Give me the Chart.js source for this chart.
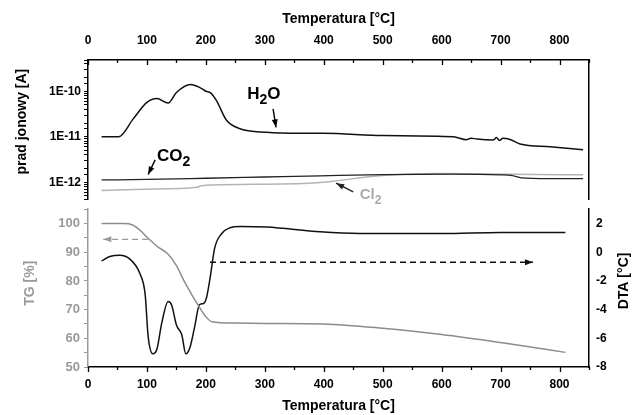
<!DOCTYPE html>
<html>
<head>
<meta charset="utf-8">
<script src="https://cdn.jsdelivr.net/npm/chart.js@4.4.1/dist/chart.umd.min.js"></script>
<style>
  body { margin: 0; background: #fff; }
  #wrap { position: relative; width: 633px; height: 415px; }
  #wrap canvas { position: absolute; left: 0; }
  #msChart { top: 0; }
  #thermoChart { top: 195px; }
</style>
</head>
<body>
<div id="wrap">
  <canvas id="msChart" width="633" height="210"></canvas>
  <canvas id="thermoChart" width="633" height="220"></canvas>
</div>
<script>
const FONT = "'Liberation Sans', Arial, sans-serif";
Chart.defaults.font.family = FONT;
Chart.defaults.font.weight = 'bold';
Chart.defaults.font.size = 12;
Chart.defaults.color = '#000';

// temperature axis [°C]
const tempMin = 0;
const tempMax = 850;

// ion current [A] vs temperature (mass spectrometry)
const h2oTemp = [23, 52, 77, 100, 117, 136, 150, 174, 190, 200, 208, 218, 235, 258, 303, 360, 400, 501, 620, 642, 650, 660, 688, 693, 698, 704, 716, 733, 784, 840];
const h2oCurrent = [1.0e-11, 1.0e-11, 2.5e-11, 5.7e-11, 6.9e-11, 5.5e-11, 9.4e-11, 1.41e-10, 1.2e-10, 1.0e-10, 9.2e-11, 6.2e-11, 2.3e-11, 1.5e-11, 1.25e-11, 1.19e-11, 1.19e-11, 1.06e-11, 1.0e-11, 8.6e-12, 9.3e-12, 8.9e-12, 8.5e-12, 9.6e-12, 8.3e-12, 9.2e-12, 8.7e-12, 6.9e-12, 6.0e-12, 5.2e-12];

const co2Temp = [23, 100, 200, 300, 394, 500, 620, 700, 720, 735, 780, 840];
const co2Current = [1.12e-12, 1.15e-12, 1.22e-12, 1.3e-12, 1.38e-12, 1.47e-12, 1.5e-12, 1.45e-12, 1.4e-12, 1.25e-12, 1.2e-12, 1.2e-12];

const cl2Temp = [23, 100, 185, 192, 300, 394, 415, 500, 590, 720, 840];
const cl2Current = [6.6e-13, 7.0e-13, 7.7e-13, 8.4e-13, 9.0e-13, 9.8e-13, 1.05e-12, 1.4e-12, 1.55e-12, 1.5e-12, 1.45e-12];

// thermogravimetry [%] and DTA [°C]
const tgTemp = [23, 60, 75, 88, 102, 117, 136, 150, 165, 179, 190, 200, 210, 250, 300, 400, 500, 600, 700, 810];
const tgMass = [100, 100, 99.6, 97.7, 94.9, 92.1, 89.3, 85.3, 79.2, 74.2, 70.5, 67.5, 65.8, 65.3, 65.2, 65.0, 63.5, 61.3, 58.5, 55.1];

const dtaTemp = [23, 37, 54, 71, 88, 97, 102, 110, 117, 125, 136, 142, 150, 159, 166, 173, 181, 189, 196, 201, 207, 215, 227, 241, 258, 303, 394, 461, 600, 700, 810];
const dtaSignal = [-0.6, -0.3, -0.21, -0.48, -1.49, -2.95, -5.85, -7.08, -6.75, -4.96, -3.44, -3.7, -5.07, -5.74, -7.08, -6.64, -5.18, -3.66, -3.57, -3.17, -1.83, 0.3, 1.31, 1.71, 1.8, 1.76, 1.42, 1.31, 1.31, 1.38, 1.38];

const pts = (xs, ys) => xs.map((x, i) => ({ x, y: ys[i] }));
const isDecade = v => Math.abs(Math.log10(v) - Math.round(Math.log10(v))) < 1e-6;

function arrow(ctx, x1, y1, x2, y2, color, dash) {
  ctx.save();
  ctx.strokeStyle = color;
  ctx.fillStyle = color;
  ctx.lineWidth = 1.4;
  if (dash) ctx.setLineDash(dash);
  ctx.beginPath();
  ctx.moveTo(x1, y1);
  ctx.lineTo(x2, y2);
  ctx.stroke();
  ctx.setLineDash([]);
  const a = Math.atan2(y2 - y1, x2 - x1);
  const L = 8, W = 3;
  ctx.beginPath();
  ctx.moveTo(x2, y2);
  ctx.lineTo(x2 - L * Math.cos(a) + W * Math.sin(a), y2 - L * Math.sin(a) - W * Math.cos(a));
  ctx.lineTo(x2 - L * Math.cos(a) - W * Math.sin(a), y2 - L * Math.sin(a) + W * Math.cos(a));
  ctx.closePath();
  ctx.fill();
  ctx.restore();
}

function chemLabel(ctx, x, y, base, sub, tail, size, color) {
  ctx.save();
  ctx.fillStyle = color;
  ctx.textAlign = 'left';
  ctx.textBaseline = 'alphabetic';
  ctx.font = `bold ${size}px ${FONT}`;
  ctx.fillText(base, x, y);
  let cx = x + ctx.measureText(base).width;
  ctx.font = `bold ${Math.round(size * 0.8)}px ${FONT}`;
  ctx.fillText(sub, cx, y + size * 0.3);
  cx += ctx.measureText(sub).width;
  ctx.font = `bold ${size}px ${FONT}`;
  if (tail) ctx.fillText(tail, cx, y);
  ctx.restore();
}

// vertical axis title, reading bottom to top
function vTitle(ctx, text, x, y, color) {
  ctx.save();
  ctx.translate(x, y);
  ctx.rotate(-Math.PI / 2);
  ctx.fillStyle = color;
  ctx.font = `bold 14px ${FONT}`;
  ctx.textAlign = 'center';
  ctx.textBaseline = 'middle';
  ctx.fillText(text, 0, 0);
  ctx.restore();
}

// x axis tick marks: major every 100, minor every 50, drawn downward from the axis line
const tempTicks = {
  id: 'tempTicks',
  afterDraw(chart, args, opts) {
    const s = chart.scales.x;
    const ctx = chart.ctx;
    const edge = opts.edge === 'top' ? chart.chartArea.top : chart.chartArea.bottom;
    ctx.save();
    ctx.strokeStyle = '#000';
    ctx.lineWidth = 1.3;
    for (let v = tempMin; v <= tempMax; v += 50) {
      const px = Math.round(s.getPixelForValue(v)) + 0.5;
      const len = v % 100 === 0 ? 5 : 3;
      ctx.beginPath();
      ctx.moveTo(px, edge);
      ctx.lineTo(px, edge + len);
      ctx.stroke();
    }
    ctx.restore();
  }
};

const msLabels = {
  id: 'msLabels',
  afterDraw(chart) {
    const { ctx, scales: { x, y } } = chart;
    vTitle(ctx, 'prad jonowy [A]', 22, y.getPixelForValue(2.15e-11), '#000');
    chemLabel(ctx, x.getPixelForValue(270), y.getPixelForValue(6.7e-11), 'H', '2', 'O', 17, '#000');
    arrow(ctx, x.getPixelForValue(314), y.getPixelForValue(4.1e-11), x.getPixelForValue(319), y.getPixelForValue(1.6e-11), '#000');
    chemLabel(ctx, x.getPixelForValue(117), y.getPixelForValue(2.97e-12), 'CO', '2', '', 17, '#000');
    arrow(ctx, x.getPixelForValue(114), y.getPixelForValue(3.1e-12), x.getPixelForValue(102), y.getPixelForValue(1.48e-12), '#000');
    chemLabel(ctx, x.getPixelForValue(461), y.getPixelForValue(4.2e-13), 'Cl', '2', '', 15, '#aaa');
    arrow(ctx, x.getPixelForValue(450), y.getPixelForValue(6.1e-13), x.getPixelForValue(421), y.getPixelForValue(9.5e-13), '#222');
  }
};

const thermoLabels = {
  id: 'thermoLabels',
  afterDraw(chart) {
    const { ctx, scales: { x, yTG, yDTA } } = chart;
    vTitle(ctx, 'TG [%]', 30, yTG.getPixelForValue(79.2), '#999');
    vTitle(ctx, 'DTA [°C]', 624, yDTA.getPixelForValue(-2), '#000');
    arrow(ctx, x.getPixelForValue(102), yTG.getPixelForValue(94.5), x.getPixelForValue(26), yTG.getPixelForValue(94.5), '#999', [6, 4]);
    arrow(ctx, x.getPixelForValue(207), yDTA.getPixelForValue(-0.7), x.getPixelForValue(755), yDTA.getPixelForValue(-0.7), '#111', [6, 4]);
  }
};

const tempAxis = (position, opts) => ({
  type: 'linear',
  position,
  min: tempMin,
  max: tempMax,
  ticks: { stepSize: 50, autoSkip: false, maxRotation: 0, padding: opts.padding, callback: v => (v % 100 === 0 ? v : '') },
  grid: { drawOnChartArea: false, drawTicks: false },
  border: { color: '#000', width: 1.5 },
  title: { display: true, text: 'Temperatura [°C]', font: { size: 14 }, padding: opts.titlePadding },
  afterFit: s => { s.height = opts.height; }
});

new Chart(document.getElementById('msChart'), {
  type: 'line',
  data: {
    datasets: [
      { label: 'H2O', data: pts(h2oTemp, h2oCurrent), borderColor: '#111', borderWidth: 1.5 },
      { label: 'CO2', data: pts(co2Temp, co2Current), borderColor: '#222', borderWidth: 1.3 },
      { label: 'Cl2', data: pts(cl2Temp, cl2Current), borderColor: '#b4b4b4', borderWidth: 1.5 }
    ]
  },
  options: {
    responsive: false,
    animation: false,
    events: [],
    layout: { padding: { top: 0, bottom: 7, left: 0, right: 0 } },
    elements: { point: { radius: 0 }, line: { cubicInterpolationMode: 'monotone' } },
    plugins: { legend: { display: false }, tooltip: { enabled: false }, tempTicks: { edge: 'top' } },
    scales: {
      x: tempAxis('top', { padding: 12, titlePadding: { top: 11 }, height: 60 }),
      y: {
        type: 'logarithmic',
        min: 4.1e-13,
        max: 4.87e-10,
        ticks: { autoSkip: false, padding: 3, callback: v => (isDecade(v) ? '1E' + Math.round(Math.log10(v)) : '') },
        grid: { drawOnChartArea: false, tickLength: 4, tickColor: '#000' },
        border: { color: '#000', width: 1.5 },
        afterFit: s => { s.width = 88; }
      },
      yR: {
        position: 'right',
        ticks: { display: false },
        grid: { drawOnChartArea: false, drawTicks: false },
        border: { color: '#000', width: 1.5 },
        afterFit: s => { s.width = 44; }
      }
    }
  },
  plugins: [tempTicks, msLabels]
});

new Chart(document.getElementById('thermoChart'), {
  type: 'line',
  data: {
    datasets: [
      { label: 'TG', data: pts(tgTemp, tgMass), yAxisID: 'yTG', borderColor: '#8c8c8c', borderWidth: 1.5 },
      { label: 'DTA', data: pts(dtaTemp, dtaSignal), yAxisID: 'yDTA', borderColor: '#111', borderWidth: 1.5 }
    ]
  },
  options: {
    responsive: false,
    animation: false,
    events: [],
    layout: { padding: { top: 8, bottom: 0, left: 0, right: 0 } },
    elements: { point: { radius: 0 }, line: { cubicInterpolationMode: 'monotone' } },
    plugins: { legend: { display: false }, tooltip: { enabled: false }, tempTicks: { edge: 'bottom' } },
    scales: {
      x: tempAxis('bottom', { padding: 10, titlePadding: { bottom: 0 }, height: 48 }),
      yTG: {
        position: 'left',
        min: 50,
        max: 105,
        ticks: { stepSize: 5, autoSkip: false, padding: 4, color: '#999', font: { size: 13 }, callback: v => (v % 10 === 0 ? v : '') },
        grid: { drawOnChartArea: false, tickLength: 4, tickColor: '#999' },
        border: { color: '#999', width: 1.5 },
        afterFit: s => { s.width = 88; }
      },
      yDTA: {
        position: 'right',
        min: -8,
        max: 3,
        ticks: { stepSize: 1, autoSkip: false, padding: 7, callback: v => (v % 2 === 0 ? v : '') },
        grid: { drawOnChartArea: false, drawTicks: false },
        border: { color: '#000', width: 1.5 },
        afterFit: s => { s.width = 44; }
      }
    }
  },
  plugins: [tempTicks, thermoLabels]
});
</script>
</body>
</html>
